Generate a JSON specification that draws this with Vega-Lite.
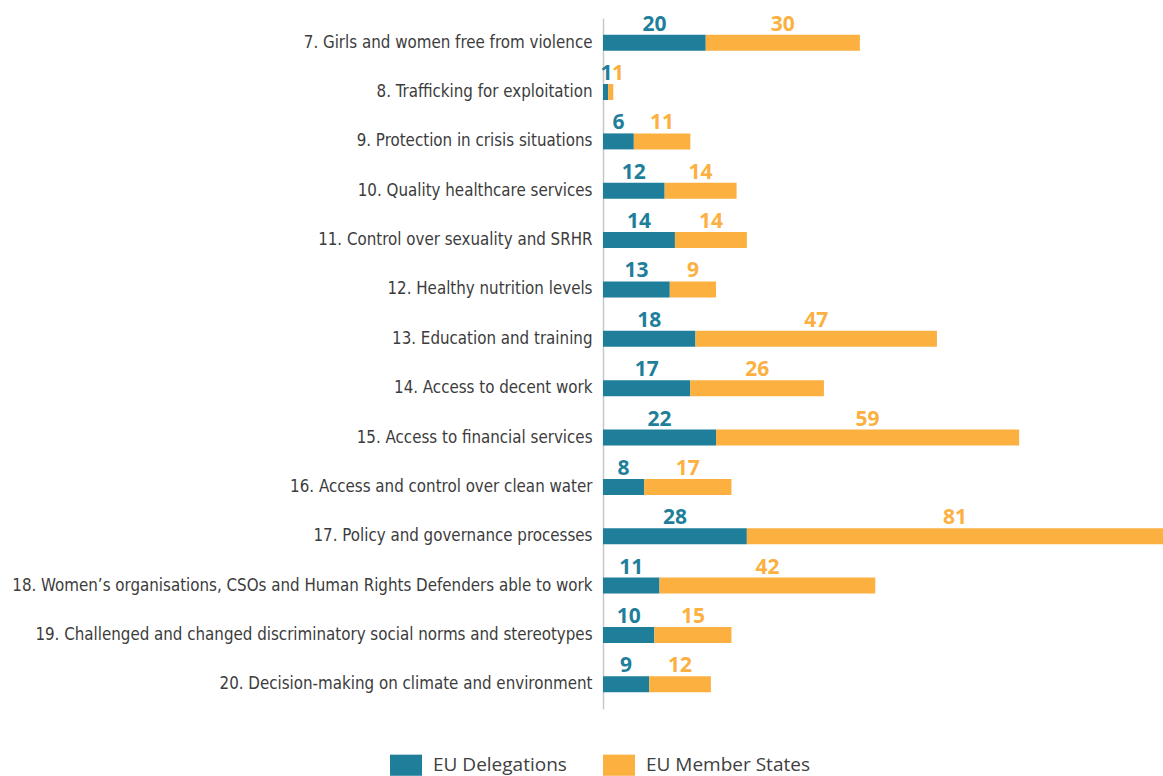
{
  "$schema": "https://vega.github.io/schema/vega-lite/v6.json",
  "width": 560,
  "height": 691,
  "autosize": {"type": "none"},
  "padding": {"left": 603, "top": 18, "right": 0, "bottom": 67},
  "background": "white",
  "config": {"view": {"stroke": null}},
  "data": {"values": [
    {"cat": "7. Girls and women free from violence", "series": "EU Delegations", "value": 20, "ord": 1},
    {"cat": "7. Girls and women free from violence", "series": "EU Member States", "value": 30, "ord": 2},
    {"cat": "8. Trafficking for exploitation", "series": "EU Delegations", "value": 1, "ord": 1},
    {"cat": "8. Trafficking for exploitation", "series": "EU Member States", "value": 1, "ord": 2},
    {"cat": "9. Protection in crisis situations", "series": "EU Delegations", "value": 6, "ord": 1},
    {"cat": "9. Protection in crisis situations", "series": "EU Member States", "value": 11, "ord": 2},
    {"cat": "10. Quality healthcare services", "series": "EU Delegations", "value": 12, "ord": 1},
    {"cat": "10. Quality healthcare services", "series": "EU Member States", "value": 14, "ord": 2},
    {"cat": "11. Control over sexuality and SRHR", "series": "EU Delegations", "value": 14, "ord": 1},
    {"cat": "11. Control over sexuality and SRHR", "series": "EU Member States", "value": 14, "ord": 2},
    {"cat": "12. Healthy nutrition levels", "series": "EU Delegations", "value": 13, "ord": 1},
    {"cat": "12. Healthy nutrition levels", "series": "EU Member States", "value": 9, "ord": 2},
    {"cat": "13. Education and training", "series": "EU Delegations", "value": 18, "ord": 1},
    {"cat": "13. Education and training", "series": "EU Member States", "value": 47, "ord": 2},
    {"cat": "14. Access to decent work", "series": "EU Delegations", "value": 17, "ord": 1},
    {"cat": "14. Access to decent work", "series": "EU Member States", "value": 26, "ord": 2},
    {"cat": "15. Access to financial services", "series": "EU Delegations", "value": 22, "ord": 1},
    {"cat": "15. Access to financial services", "series": "EU Member States", "value": 59, "ord": 2},
    {"cat": "16. Access and control over clean water", "series": "EU Delegations", "value": 8, "ord": 1},
    {"cat": "16. Access and control over clean water", "series": "EU Member States", "value": 17, "ord": 2},
    {"cat": "17. Policy and governance processes", "series": "EU Delegations", "value": 28, "ord": 1},
    {"cat": "17. Policy and governance processes", "series": "EU Member States", "value": 81, "ord": 2},
    {"cat": "18. Women’s organisations, CSOs and Human Rights Defenders able to work", "series": "EU Delegations", "value": 11, "ord": 1},
    {"cat": "18. Women’s organisations, CSOs and Human Rights Defenders able to work", "series": "EU Member States", "value": 42, "ord": 2},
    {"cat": "19. Challenged and changed discriminatory social norms and stereotypes", "series": "EU Delegations", "value": 10, "ord": 1},
    {"cat": "19. Challenged and changed discriminatory social norms and stereotypes", "series": "EU Member States", "value": 15, "ord": 2},
    {"cat": "20. Decision-making on climate and environment", "series": "EU Delegations", "value": 9, "ord": 1},
    {"cat": "20. Decision-making on climate and environment", "series": "EU Member States", "value": 12, "ord": 2}
  ]},
  "transform": [
    {"stack": "value", "groupby": ["cat"], "sort": [{"field": "ord", "order": "ascending"}], "as": ["v0", "v1"]},
    {"calculate": "datum.ord == 1 ? max((datum.v0 + datum.v1) / 2, 0.7) : max((datum.v0 + datum.v1) / 2, datum.v0 + 1.9)", "as": "mid"}
  ],
  "encoding": {
    "y": {
      "field": "cat", "type": "nominal", "sort": null,
      "scale": {"paddingInner": 0, "paddingOuter": 0},
      "axis": {
        "title": null, "ticks": false, "domain": true, "domainColor": "#c8c8c8", "domainWidth": 1.5,
        "labelFont": "DejaVu Sans Condensed, Roboto Condensed, Liberation Sans Narrow, Roboto, sans-serif", "labelFontSize": 16.8, "labelColor": "#3c3c3c",
        "labelPadding": 11, "labelLimit": 700, "grid": false
      }
    },
    "color": {
      "field": "series", "type": "nominal",
      "scale": {"domain": ["EU Delegations", "EU Member States"], "range": ["#1f7f9b", "#fbb040"]},
      "legend": {
        "title": null, "orient": "none", "direction": "horizontal",
        "legendX": -213, "legendY": 731,
        "symbolType": "M-1,-0.66L1,-0.66L1,0.66L-1,0.66Z", "symbolSize": 1024,
        "symbolStrokeWidth": 0, "symbolOpacity": 1,
        "labelFont": "Open Sans", "labelFontSize": 19, "labelColor": "#404040", "labelLimit": 400,
        "labelOffset": 11, "columnPadding": 36, "padding": 0
      }
    }
  },
  "layer": [
    {
      "mark": {"type": "bar", "size": 16},
      "encoding": {
        "x": {
          "field": "v0", "type": "quantitative",
          "scale": {"domain": [0, 109], "nice": false, "zero": true},
          "axis": null
        },
        "x2": {"field": "v1"}
      }
    },
    {
      "mark": {"type": "text", "font": "Open Sans", "fontWeight": "bold", "fontSize": 21, "baseline": "alphabetic", "dy": -12, "align": "center"},
      "encoding": {
        "x": {"field": "mid", "type": "quantitative"},
        "text": {"field": "value", "type": "quantitative"}
      }
    }
  ]
}
